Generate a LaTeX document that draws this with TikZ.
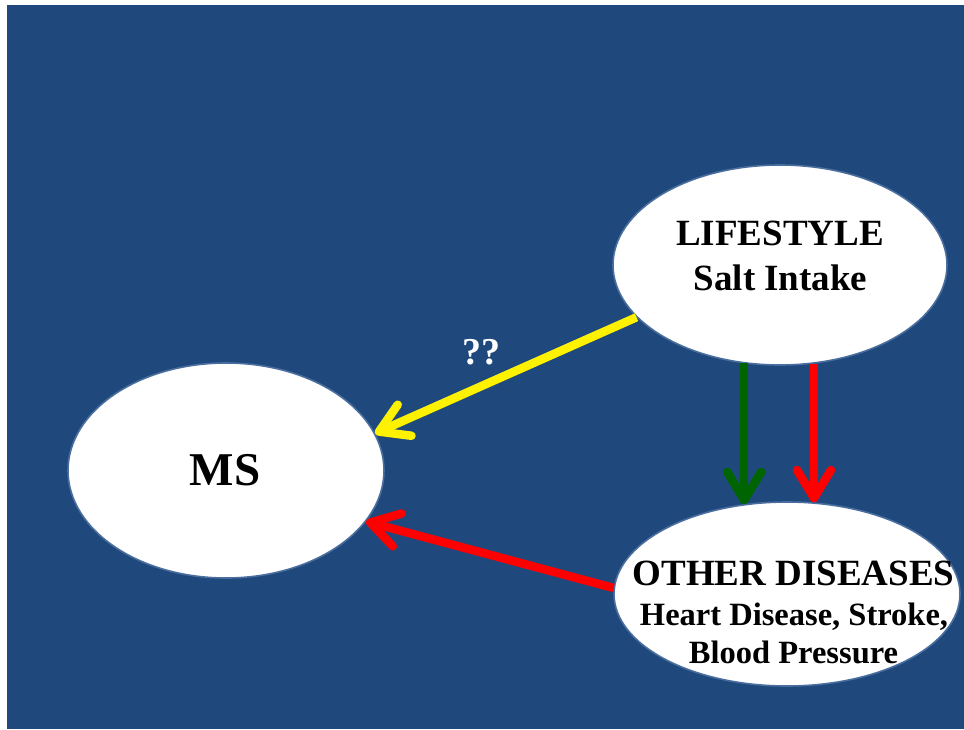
\documentclass[tikz,border=0pt]{standalone}
\usepackage{fontspec}
\setmainfont{Liberation Serif}
\usetikzlibrary{shapes.geometric,arrows.meta}
\definecolor{slideblue}{HTML}{1F497D}
\definecolor{rimblue}{HTML}{4A6E9E}
\definecolor{darkgreen}{HTML}{006400}
\tikzset{
  bubble/.style={ellipse, fill=white, draw=rimblue, line width=1.6pt,
    inner sep=0pt},
  caption/.style={anchor=base, inner sep=0pt, font=\bfseries\fontsize{#1}{#1}\selectfont},
  link/.style={line width=8.5pt,
    -{Straight Barb[length=28pt,width=34pt,round]}},
}
\begin{document}
\begin{tikzpicture}[x=1pt,y=-1pt]
  \useasboundingbox (0,0) rectangle (964,729);
  \fill[white] (0,0) rectangle (964,729);
  \fill[slideblue] (7,5) rectangle (964,729);

  % the three ellipses
  \node[bubble, minimum width=334pt, minimum height=200pt] (life) at (780,265) {};
  \node[bubble, minimum width=316pt, minimum height=215pt] (ms) at (226,470.5) {};
  \node[bubble, minimum width=346pt, minimum height=184pt] (other) at (787,594) {};

  % their captions
  \node[caption=37] (lifeA) at (780,245) {LIFESTYLE};
  \node[caption=37] (lifeB) at (780.5,290) {Salt Intake};
  \node[caption=47] (msA) at (225,485) {MS};
  \node[caption=37] (otherA) at (793.5,585) {OTHER DISEASES};
  \node[caption=32.5] (otherB) at (794,625) {Heart Disease, Stroke,};
  \node[caption=32.5] (otherC) at (793.5,663) {Blood Pressure};

  % connectors
  \draw[link, yellow] (life.200.4) -- (ms.14.2);
  \node[caption=38, white] (qq) at (481,364) {??};
  \draw[link, darkgreen] (life.250.3) -- (life.250.3 |- other.116.6);
  \draw[link, red] (life.289.7) -- (life.289.7 |- other.74.8);
  \draw[link, red] (other.178.7) -- (ms.340.7);
\end{tikzpicture}
\end{document}
